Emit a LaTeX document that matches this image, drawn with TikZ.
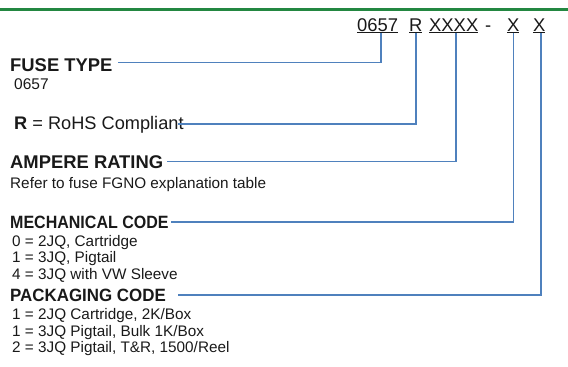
\documentclass[tikz,border=0pt]{standalone}
\usepackage{fontspec}
\setmainfont{Liberation Sans}
\usepackage{graphicx}
\usepackage{tikz}
\definecolor{bargreen}{RGB}{35,135,65}
\definecolor{leadblue}{RGB}{79,129,189}

\begin{document}
\begin{tikzpicture}[x=1pt, y=-1pt, every node/.style={inner sep=0pt, anchor=base west, text=black!90}, head/.style={font=\fontsize{18.4}{21}\selectfont\bfseries}, body/.style={font=\fontsize{15.3}{18}\selectfont}, code/.style={font=\fontsize{18.4}{21}\selectfont}, lead/.style={draw=leadblue, line width=1.6pt}]
	\useasboundingbox (0,0) rectangle (568,367);
	\draw[bargreen, line width=3pt] (0,9) -- (568,9);
	% part number
	\node[code] (cType) at (357,31) {\underline{0657}};
	\node[code] (cRohs) at (409,31) {\underline{R}};
	\node[code] (cAmp) at (429,31) {\underline{XXXX}};
	\node[code] (cDash) at (485,31) {-};
	\node[code] (cMech) at (507,31) {\underline{X}};
	\node[code] (cPack) at (533,31) {\underline{X}};
	% fields
	\node[head] (fuseType) at (10,71) {FUSE TYPE};
	\node[body, font=\fontsize{15.5}{18}\selectfont] (typeVal) at (14,89) {0657};
	\node[body, font=\fontsize{18.2}{21}\selectfont] (rohs) at (14,129) {\textbf{R} = RoHS Compliant};
	\node[head] (amp) at (10,168) {AMPERE RATING};
	\node[body] (ampVal) at (10,188) {Refer to fuse FGNO explanation table};
	\node[head, font=\fontsize{17.8}{21}\selectfont\bfseries] (mech) at (10,228) {\scalebox{0.9}[1]{MECHANICAL CODE}};
	\node[body] (mech0) at (12,246) {0 = 2JQ, Cartridge};
	\node[body] (mech1) at (12,262) {1 = 3JQ, Pigtail};
	\node[body] (mech4) at (12,279) {4 = 3JQ with VW Sleeve};
	\node[head, font=\fontsize{17.8}{21}\selectfont\bfseries] (pack) at (10,301) {\scalebox{0.95}[1]{PACKAGING CODE}};
	\node[body] (pack1) at (12,319) {1 = 2JQ Cartridge, 2K/Box};
	\node[body] (pack2) at (12,336) {1 = 3JQ Pigtail, Bulk 1K/Box};
	\node[body] (pack3) at (12,352) {2 = 3JQ Pigtail, T\&R, 1500/Reel};
	% leaders
	\draw[lead] ([xshift=3.5pt]cType.south) |- ([xshift=5pt, yshift=2pt]fuseType.east);
	\draw[lead] (cRohs.south) |- ([xshift=-6pt]rohs.east);
	\draw[lead] ([xshift=2.5pt]cAmp.south) |- ([xshift=4pt]amp.east);
	\draw[lead] (cMech.south) |- ([xshift=2pt]mech.east);
	\draw[lead] ([xshift=1.5pt]cPack.south) |- ([xshift=12pt]pack.east);
\end{tikzpicture}
\end{document}
